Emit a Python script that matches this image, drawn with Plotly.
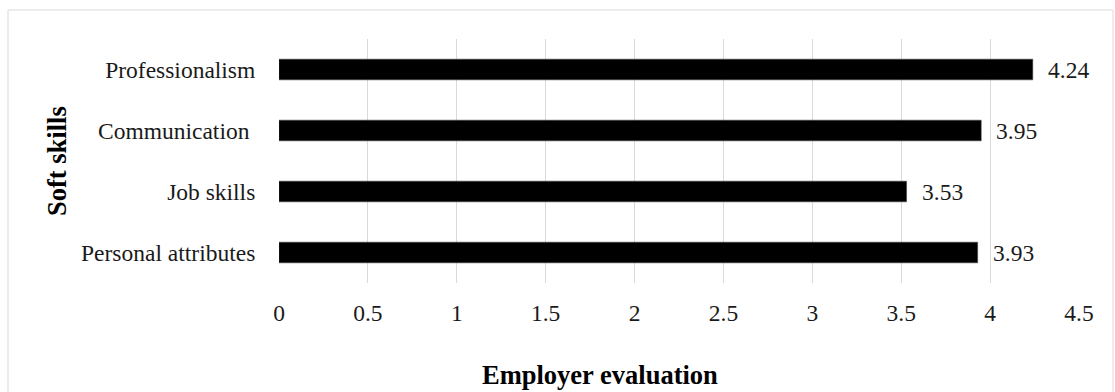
import plotly.graph_objects as go

categories = ["Personal attributes", "Job skills", "Communication ", "Professionalism"]
values = [3.93, 3.53, 3.95, 4.24]
value_labels = ["3.93", "3.53", "3.95", "4.24"]
x_ticks = [0, 0.5, 1, 1.5, 2, 2.5, 3, 3.5, 4, 4.5]
x_tick_text = ["0", "0.5", "1", "1.5", "2", "2.5", "3", "3.5", "4", "4.5"]

FONT = "Liberation Serif, Times New Roman, serif"
FS = 23.5
W, H = 1115, 392
L, R, T, B = 279, 36, 39, 109
pw, ph = W - L - R, H - T - B

fig = go.Figure()
fig.add_trace(go.Bar(
    y=categories, x=values, orientation="h",
    marker=dict(color="#000000", line=dict(color="#404040", width=0.5)),
    width=0.34, showlegend=False, hoverinfo="skip",
))

for c, v, t in zip(categories, values, value_labels):
    fig.add_annotation(x=v, y=c, text=t, showarrow=False, xanchor="left",
                       yanchor="middle", xshift=13,
                       font=dict(family=FONT, size=FS, color="#1a1a1a"))

def px_x(p):
    return (p - L) / pw

def px_y(p):
    return (H - B - p) / ph

fig.add_shape(type="rect", xref="paper", yref="paper",
              x0=px_x(8), x1=px_x(1113), y0=px_y(400), y1=px_y(10),
              line=dict(color="#d9d9d9", width=1), layer="below")

fig.add_annotation(xref="paper", yref="paper", x=px_x(600), y=px_y(375),
                   xanchor="center", yanchor="middle",
                   text="<b>Employer evaluation</b>", showarrow=False,
                   font=dict(family=FONT, size=26.5, color="#000000"))
fig.add_annotation(xref="paper", yref="paper", x=px_x(57), y=px_y(161),
                   xanchor="center", yanchor="middle",
                   text="<b>Soft skills</b>", showarrow=False, textangle=-90,
                   font=dict(family=FONT, size=26.5, color="#000000"))

fig.update_layout(
    width=W, height=H,
    margin=dict(l=L, r=R, t=T, b=B, pad=0),
    paper_bgcolor="white", plot_bgcolor="white",
    font=dict(family=FONT, size=FS, color="#1a1a1a"),
    bargap=0.66,
)
fig.update_xaxes(range=[0, 4.5], tickvals=x_ticks, ticktext=x_tick_text,
                 showgrid=True, gridcolor="#d9d9d9", gridwidth=1,
                 zeroline=False, showline=False,
                 ticks="outside", ticklen=9, tickcolor="rgba(0,0,0,0)",
                 tickfont=dict(family=FONT, size=FS, color="#1a1a1a"))
fig.update_yaxes(categoryorder="array", categoryarray=categories,
                 showgrid=False, zeroline=False, showline=False,
                 ticks="outside", ticklen=18, tickcolor="rgba(0,0,0,0)",
                 tickfont=dict(family=FONT, size=FS, color="#1a1a1a"))

fig.write_html("out.html")
